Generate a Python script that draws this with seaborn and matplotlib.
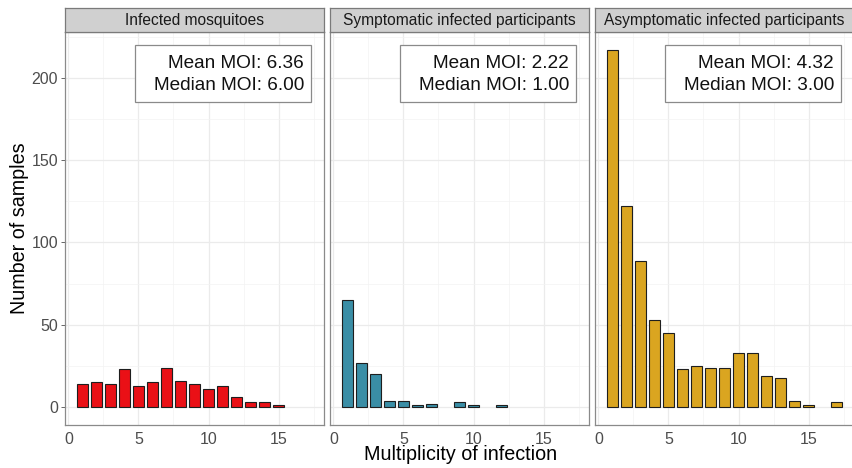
import numpy as np
import pandas as pd
import matplotlib
matplotlib.use("Agg")
import matplotlib.pyplot as plt
import seaborn as sns
from matplotlib.patches import Rectangle
from matplotlib.ticker import MultipleLocator

# Counts of samples per multiplicity of infection (MOI), one group per panel
panel_titles = ["Infected mosquitoes",
                "Symptomatic infected participants",
                "Asymptomatic infected participants"]
bar_colors = ["#EA1016", "#3A8EA6", "#DAA520"]

mosq_moi = [1, 2, 3, 4, 5, 6, 7, 8, 9, 10, 11, 12, 13, 14, 15]
mosq_count = [14, 15, 14, 23, 13, 15, 24, 16, 14, 11, 13, 6, 3, 3, 1]

sympt_moi = [1, 2, 3, 4, 5, 6, 7, 9, 10, 12]
sympt_count = [65, 27, 20, 4, 4, 1, 2, 3, 1, 1]

asym_moi = [1, 2, 3, 4, 5, 6, 7, 8, 9, 10, 11, 12, 13, 14, 15, 17]
asym_count = [217, 122, 89, 53, 45, 23, 25, 24, 24, 33, 33, 19, 18, 4, 1, 3]

x_ticks = [0, 5, 10, 15]
y_ticks = [0, 50, 100, 150, 200]

groups = [(mosq_moi, mosq_count), (sympt_moi, sympt_count), (asym_moi, asym_count)]

sns.set_style("white")
plt.rcParams["font.family"] = ["Liberation Sans", "DejaVu Sans"]

W, H = 852, 468
fig = plt.figure(figsize=(W / 100, H / 100), dpi=100)

lefts = [65, 330, 595]
panel_w = 259
panel_top, panel_bottom = 32, 425
panel_h = panel_bottom - panel_top
strip_top = 8

border_col = "#8A8A8A"
tick_col = "#4D4D4D"

for i, (title, color, (moi, cnt)) in enumerate(zip(panel_titles, bar_colors, groups)):
    l = lefts[i]
    ax = fig.add_axes([l / W, 1 - panel_bottom / H, panel_w / W, panel_h / H])
    df = pd.DataFrame({"moi": moi, "count": cnt})
    sns.barplot(data=df, x="moi", y="count", native_scale=True, width=0.8,
                color=color, saturation=1, edgecolor="#1E1E1E", linewidth=0.8,
                errorbar=None, ax=ax)

    ax.set_xlim(-0.24, 18.24)
    ax.set_ylim(-10.85, 227.85)
    ax.set_xticks(x_ticks)
    ax.set_yticks(y_ticks)
    ax.xaxis.set_minor_locator(MultipleLocator(2.5))
    ax.yaxis.set_minor_locator(MultipleLocator(25))
    ax.set_axisbelow(True)
    ax.grid(which="major", color="#EBEBEB", linewidth=0.9)
    ax.grid(which="minor", color="#F3F3F3", linewidth=0.5)
    ax.tick_params(which="minor", length=0)
    ax.tick_params(axis="x", which="major", length=3, width=0.6, color=tick_col,
                   labelsize=11.5, labelcolor=tick_col, pad=2)
    if i == 0:
        ax.tick_params(axis="y", which="major", length=3, width=0.6, color=tick_col,
                       labelsize=11.5, labelcolor=tick_col, pad=2, left=True)
    else:
        ax.tick_params(axis="y", which="major", left=False, labelleft=False)
    ax.set_xlabel("")
    ax.set_ylabel("")
    for s in ax.spines.values():
        s.set_visible(True)
        s.set_color(border_col)
        s.set_linewidth(0.9)

    # summary statistics label (box in panel pixels, converted to axes fractions)
    values = np.repeat(moi, cnt)
    mean_v = values.mean()
    median_v = np.median(values)
    bx0, bx1 = 70 / panel_w, 246 / panel_w
    by1, by0 = 1 - 13 / panel_h, 1 - 70 / panel_h
    ax.add_patch(Rectangle((bx0, by0), bx1 - bx0, by1 - by0, transform=ax.transAxes,
                           facecolor="white", edgecolor="#8A8A8A", linewidth=0.9,
                           zorder=5))
    ax.text(239 / panel_w, 1 - 42.5 / panel_h,
            f"Mean MOI: {mean_v:.2f}\nMedian MOI: {median_v:.2f}",
            transform=ax.transAxes, ha="right", va="center", fontsize=13.7,
            color="#111111", multialignment="right", linespacing=1.42, zorder=6)

    # facet strip
    sax = fig.add_axes([l / W, 1 - panel_top / H, panel_w / W,
                        (panel_top - strip_top) / H])
    sax.set_facecolor("#D0D0D0")
    sax.set_xticks([])
    sax.set_yticks([])
    for s in sax.spines.values():
        s.set_visible(True)
        s.set_color("#7A7A7A")
        s.set_linewidth(0.9)
    sax.text(0.5, 0.47, title, ha="center", va="center", fontsize=11.2,
             color="#1A1A1A", transform=sax.transAxes)

fig.text(20 / W, 1 - 228 / H, "Number of samples", rotation=90,
         ha="center", va="center", fontsize=14.2, color="black")
fig.text(461 / W, 1 - 455 / H, "Multiplicity of infection",
         ha="center", va="center", fontsize=14.2, color="black")

fig.savefig("out.png", dpi=100)
